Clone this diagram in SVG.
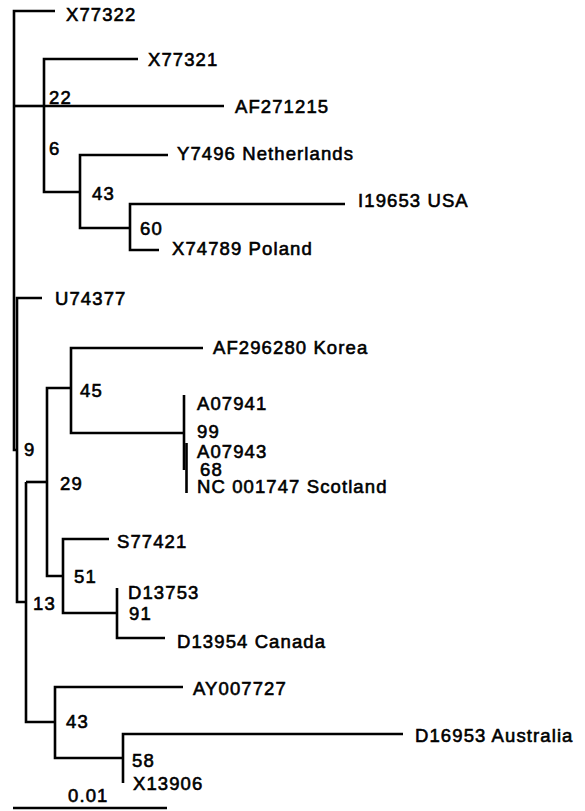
<svg xmlns="http://www.w3.org/2000/svg" width="585" height="811" viewBox="0 0 585 811">
<style>
.br{fill:none;stroke:#000;stroke-width:2.6;stroke-linejoin:miter;stroke-linecap:butt}
text{font-family:"Liberation Sans",Arial,sans-serif;font-size:18.5px;letter-spacing:1.1px;fill:#000;stroke:#000;stroke-width:0.6}
</style>
<rect width="585" height="811" fill="#fff"/>
<g id="connectors">
<path class="br" d="M55,11 H14 V450 H17"/>
<path class="br" d="M14,106 H44"/>
<path class="br" d="M138,59 H44 V192 H80"/>
<path class="br" d="M44,106 H224"/>
<path class="br" d="M168,155 H80 V228 H130"/>
<path class="br" d="M345,204 H130 V250 H159"/>
<path class="br" d="M42,298 H17 V602 H26"/>
<path class="br" d="M26,482 V722 H55"/>
<path class="br" d="M26,482 H47"/>
<path class="br" d="M71,388 H47 V576 H63"/>
<path class="br" d="M203,348 H71 V433 H184"/>
<path class="br" d="M184,395 V470"/>
<path class="br" d="M186.5,443 V493"/>
<path class="br" d="M109,539 H63 V613 H117"/>
<path class="br" d="M117,588 V638 H165"/>
<path class="br" d="M183,687 H55 V758 H123"/>
<path class="br" d="M403,734 H123 V783"/>
<path class="br" d="M13,808 H167"/>
</g>
<g id="X77322"><text x="66" y="21">X77322</text></g>
<g id="X77321"><text x="148" y="66">X77321</text></g>
<g id="b22"><text x="49" y="104">22</text></g>
<g id="AF271215"><text x="235" y="113">AF271215</text></g>
<g id="b6"><text x="49" y="155">6</text></g>
<g id="Y7496"><text x="177" y="160">Y7496 Netherlands</text></g>
<g id="b43a"><text x="92" y="200">43</text></g>
<g id="I19653"><text x="358" y="207">I19653 USA</text></g>
<g id="b60"><text x="140" y="235">60</text></g>
<g id="X74789"><text x="172" y="255">X74789 Poland</text></g>
<g id="U74377"><text x="55" y="305">U74377</text></g>
<g id="AF296280"><text x="213" y="354">AF296280 Korea</text></g>
<g id="b45"><text x="80" y="397">45</text></g>
<g id="A07941"><text x="197" y="410">A07941</text></g>
<g id="b99"><text x="197" y="438">99</text></g>
<g id="A07943"><text x="197" y="458">A07943</text></g>
<g id="b68"><text x="200" y="476">68</text></g>
<g id="NC001747"><text x="197" y="493">NC 001747 Scotland</text></g>
<g id="b9"><text x="24" y="456">9</text></g>
<g id="b29"><text x="60" y="490">29</text></g>
<g id="S77421"><text x="117" y="548">S77421</text></g>
<g id="b51"><text x="74" y="583">51</text></g>
<g id="D13753"><text x="128" y="599">D13753</text></g>
<g id="b91"><text x="129" y="620">91</text></g>
<g id="b13"><text x="33" y="610">13</text></g>
<g id="D13954"><text x="177" y="648">D13954 Canada</text></g>
<g id="AY007727"><text x="193" y="695">AY007727</text></g>
<g id="b43b"><text x="66" y="728">43</text></g>
<g id="D16953"><text x="415" y="742">D16953 Australia</text></g>
<g id="b58"><text x="132" y="767">58</text></g>
<g id="X13906"><text x="133" y="790">X13906</text></g>
<g id="scale"><text x="68" y="802">0.01</text></g>
</svg>
